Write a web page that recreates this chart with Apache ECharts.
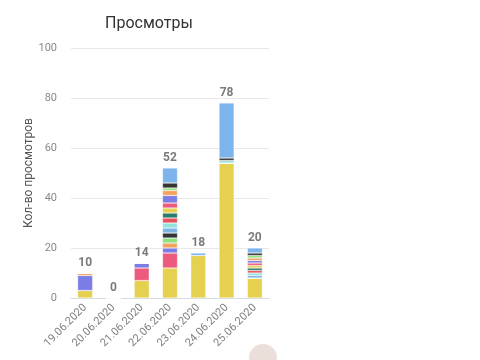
<!DOCTYPE html>
<html>
<head>
<meta charset="utf-8">
<script src="https://cdn.jsdelivr.net/npm/echarts@6/dist/echarts.min.js"></script>
<style>html,body{margin:0;padding:0;background:#fff}#c{width:480px;height:360px}</style>
</head>
<body>
<div id="c"></div>
<script>
const dates = ['19.06.2020','20.06.2020','21.06.2020','22.06.2020','23.06.2020','24.06.2020','25.06.2020'];
const s1  = [3, 0, 7, 12, 17, 54, 8];
const s2  = [0, 0, 5, 6, 0, 0, 0];
const s3  = [6, 0, 2, 2, 0, 0, 0];
const s4  = [1, 0, 0, 2, 0, 0, 0];
const s5  = [0, 0, 0, 2, 0, 0, 0];
const s6  = [0, 0, 0, 2, 0, 0, 0];
const s7  = [0, 0, 0, 2, 0, 0, 1];
const s8  = [0, 0, 0, 2, 0, 1, 1];
const s9  = [0, 0, 0, 2, 0, 0, 1];
const s10 = [0, 0, 0, 2, 0, 0, 1];
const s11 = [0, 0, 0, 2, 0, 0, 1];
const s12 = [0, 0, 0, 2, 0, 0, 1];
const s13 = [0, 0, 0, 3, 0, 0, 1];
const s14 = [0, 0, 0, 2, 0, 0, 1];
const s15 = [0, 0, 0, 1, 0, 0, 1];
const s16 = [0, 0, 0, 2, 0, 1, 1];
const s17 = [0, 0, 0, 6, 1, 22, 2];
const yTicks = [0, 20, 40, 60, 80, 100];

const seriesData = [s1,s2,s3,s4,s5,s6,s7,s8,s9,s10,s11,s12,s13,s14,s15,s16,s17];
const palette = ['#e6d04f','#ec5a7e','#7b7de4','#f4a35f','#8fe07f','#343434','#7eb3e6','#90e2da','#e9525b','#2c7b6c',
                 '#e6d04f','#ec5a7e','#7b7de4','#f4a35f','#8fe07f','#343434','#7db4ec'];
const totals = dates.map((d, i) => seriesData.reduce((a, s) => a + s[i], 0));

const series = seriesData.map((s, k) => ({
  name: 'Страница ' + (k + 1),
  type: 'bar',
  stack: 'v',
  barWidth: 15,
  data: s,
  itemStyle: { color: palette[k], borderColor: '#fff', borderWidth: 0.4 },
  emphasis: { disabled: true }
}));
series.push({
  name: 'total',
  type: 'bar',
  stack: 'v',
  barWidth: 15,
  data: dates.map(() => 0),
  itemStyle: { color: 'transparent' },
  label: {
    show: true, position: 'top', distance: 4,
    color: '#7a7a7a', fontSize: 12, fontWeight: 'bold', fontFamily: 'Roboto',
    formatter: p => String(totals[p.dataIndex])
  }
});

const chart = echarts.init(document.getElementById('c'), null, { renderer: 'canvas' });
chart.setOption({
  animation: false,
  backgroundColor: '#fff',
  title: {
    text: 'Просмотры', left: 100, top: 11,
    textStyle: { fontFamily: 'Roboto', fontSize: 16, fontWeight: 'normal', color: '#333' }
  },
  grid: { left: 71, right: 211, top: 48, bottom: 62 },
  xAxis: {
    type: 'category', data: dates,
    axisLine: { lineStyle: { color: '#d5dbe5' } },
    axisTick: { show: false },
    axisLabel: { rotate: 45, color: '#808080', fontSize: 11, fontFamily: 'Roboto', margin: 8, interval: 0 }
  },
  yAxis: {
    type: 'value', min: yTicks[0], max: yTicks[yTicks.length - 1], interval: 20,
    name: 'Кол-во просмотров', nameLocation: 'middle', nameGap: 35,
    nameTextStyle: { color: '#555', fontSize: 12, fontFamily: 'Roboto' },
    axisLine: { show: false }, axisTick: { show: false },
    axisLabel: { color: '#888', fontSize: 11, fontFamily: 'Roboto', margin: 14 },
    splitLine: { lineStyle: { color: '#e8e8e8' } }
  },
  graphic: [{
    type: 'circle', shape: { cx: 263, cy: 358, r: 14 },
    style: { fill: 'rgba(190,150,130,0.3)' }, silent: true
  }],
  series: series
});
</script>
</body>
</html>
